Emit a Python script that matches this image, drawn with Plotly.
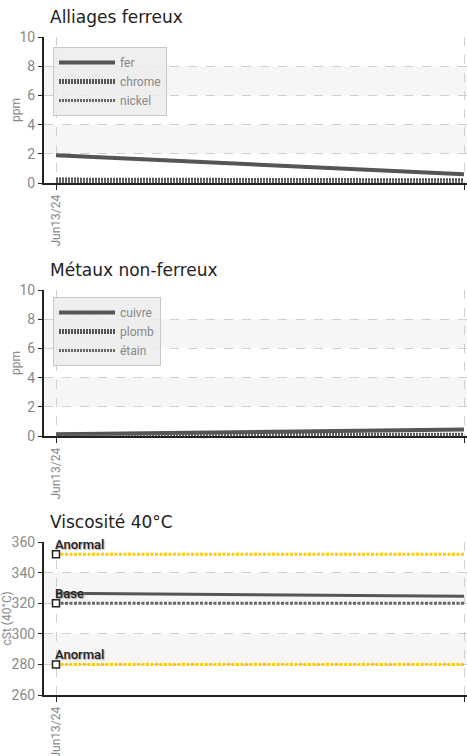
import plotly.graph_objects as go

# ---- data ----
dates = ["2024-06-13 06:00", "2024-06-13 18:00"]
tick_labels = ["Jun13/24", "Jun13/24"]

fer = [1.9, 0.6]
chrome = [0.2, 0.15]
nickel = [0.1, 0.1]

cuivre = [0.12, 0.45]
plomb = [0.05, 0.05]
etain = [0.02, 0.02]

viscosite = [326.5, 324.5]
anormal_haut = 352
base = 320
anormal_bas = 280

W, H = 467, 756
COND = "Roboto, sans-serif"
TITLE_FONT = "DejaVu Sans, Verdana, sans-serif"
DARK = "#555555"

fig = go.Figure()

xrange_ = ["2024-06-13 05:38:49", "2024-06-13 18:05:18"]
xdom = [44 / W, 1.0]
ydoms = [
    [1 - 183 / H, 1 - 37 / H],
    [1 - 436 / H, 1 - 290 / H],
    [1 - 695 / H, 1 - 542 / H],
]

# chart 1
fig.add_trace(go.Scatter(x=dates, y=fer, name="fer", mode="lines",
                         line=dict(color=DARK, width=4), xaxis="x", yaxis="y", legend="legend"))
fig.add_trace(go.Scatter(x=dates, y=chrome, name="chrome", mode="lines",
                         line=dict(color=DARK, width=5, dash="2px,1px"), xaxis="x", yaxis="y", legend="legend"))
fig.add_trace(go.Scatter(x=dates, y=nickel, name="nickel", mode="lines",
                         line=dict(color="#666666", width=3, dash="2px,1px"), xaxis="x", yaxis="y", legend="legend"))
# chart 2
fig.add_trace(go.Scatter(x=dates, y=cuivre, name="cuivre", mode="lines",
                         line=dict(color=DARK, width=4), xaxis="x2", yaxis="y2", legend="legend2"))
fig.add_trace(go.Scatter(x=dates, y=plomb, name="plomb", mode="lines",
                         line=dict(color=DARK, width=5, dash="2px,1px"), xaxis="x2", yaxis="y2", legend="legend2"))
fig.add_trace(go.Scatter(x=dates, y=etain, name="étain", mode="lines",
                         line=dict(color="#666666", width=3, dash="2px,1px"), xaxis="x2", yaxis="y2", legend="legend2"))
# chart 3
for val, col, lab in [(anormal_haut, "#ffcc00", "Anormal"), (base, "#666666", "Base"), (anormal_bas, "#ffcc00", "Anormal")]:
    fig.add_trace(go.Scatter(x=dates, y=[val, val], mode="lines", showlegend=False,
                             line=dict(color=col, width=3, dash="3px,1.5px"), xaxis="x3", yaxis="y3"))
    fig.add_trace(go.Scatter(x=dates[:1], y=[val], mode="markers", showlegend=False,
                             marker=dict(symbol="square", size=7, color="white",
                                         line=dict(color="#222", width=1.5)),
                             xaxis="x3", yaxis="y3"))
    fig.add_annotation(x=dates[0], y=val, xref="x3", yref="y3", text=lab, showarrow=False,
                       xanchor="left", yanchor="bottom", xshift=-3, yshift=0,
                       font=dict(family=COND, size=13, color="#222", weight=500,
                                 shadow="1px 1px 1px #aaa"))
fig.add_trace(go.Scatter(x=dates, y=viscosite, mode="lines", showlegend=False,
                         line=dict(color=DARK, width=3), xaxis="x3", yaxis="y3"))

# axes
titles = ["Alliages ferreux", "Métaux non-ferreux", "Viscosité 40°C"]
ytitles = ["ppm", "ppm", "cSt (40°C)"]
ytitle_x = [16, 16, 6]
yranges = [[0, 10], [0, 10], [260, 360]]
ydticks = [2, 2, 20]
bands = [[(2, 4), (6, 8)], [(2, 4), (6, 8)], [(280, 300), (320, 340)]]

for i in range(3):
    s = "" if i == 0 else str(i + 1)
    fig.layout["xaxis" + s] = dict(
        domain=xdom, anchor="y" + s, type="date", range=xrange_,
        tickvals=dates, ticktext=tick_labels, tickangle=-90,
        showgrid=True, gridcolor="#d0d0d0", griddash="dash", gridwidth=1,
        showline=True, linecolor="#222", linewidth=2,
        ticks="outside", ticklen=5, tickcolor="#222", tickwidth=1,
        tickfont=dict(family=COND, size=12, color="#888"),
        zeroline=False, fixedrange=True, automargin=False,
    )
    fig.layout["yaxis" + s] = dict(
        domain=ydoms[i], anchor="x" + s, range=yranges[i], dtick=ydticks[i],
        showgrid=True, gridcolor="#d0d0d0", griddash="dash", gridwidth=1,
        showline=True, linecolor="#222", linewidth=2,
        ticks="outside", ticklen=4, tickcolor="#222", tickwidth=1,
        tickfont=dict(family=COND, size=14, color="#888"),
        zeroline=False, fixedrange=True, automargin=False,
    )
    fig.add_annotation(text=ytitles[i], xref="paper", yref="paper", x=ytitle_x[i] / W,
                       y=(ydoms[i][0] + ydoms[i][1]) / 2, textangle=-90, showarrow=False,
                       xanchor="center", yanchor="middle",
                       font=dict(family=COND, size=12, color="#888"))
    for (a, b) in bands[i]:
        fig.add_shape(type="rect", xref="x" + s + " domain", yref="y" + s, x0=0, x1=1, y0=a, y1=b,
                      fillcolor="#f6f6f6", line_width=0, layer="below")
    fig.add_annotation(text=titles[i], xref="paper", yref="paper", x=48 / W,
                       y=ydoms[i][1] + 8 / H, xanchor="left", yanchor="bottom", showarrow=False,
                       font=dict(family=TITLE_FONT, size=17, color="#222"))

leg_common = dict(bgcolor="rgba(236,236,236,0.85)", bordercolor="#c8c8c8", borderwidth=1,
                  font=dict(family=COND, size=12, color="#888"), itemwidth=56,
                  xanchor="left", yanchor="top", tracegroupgap=0)
fig.update_layout(
    template="none",
    width=W, height=H, margin=dict(l=0, r=0, t=0, b=0, autoexpand=False),
    paper_bgcolor="white", plot_bgcolor="white",
    legend=dict(x=53 / W, y=1 - 47 / H, **leg_common),
    legend2=dict(x=53 / W, y=1 - 297 / H, **leg_common),
    showlegend=True,
)

fig.write_html("out.html", config={"displayModeBar": False},
               post_script="document.body.style.margin='0';document.body.style.overflow='hidden';")
